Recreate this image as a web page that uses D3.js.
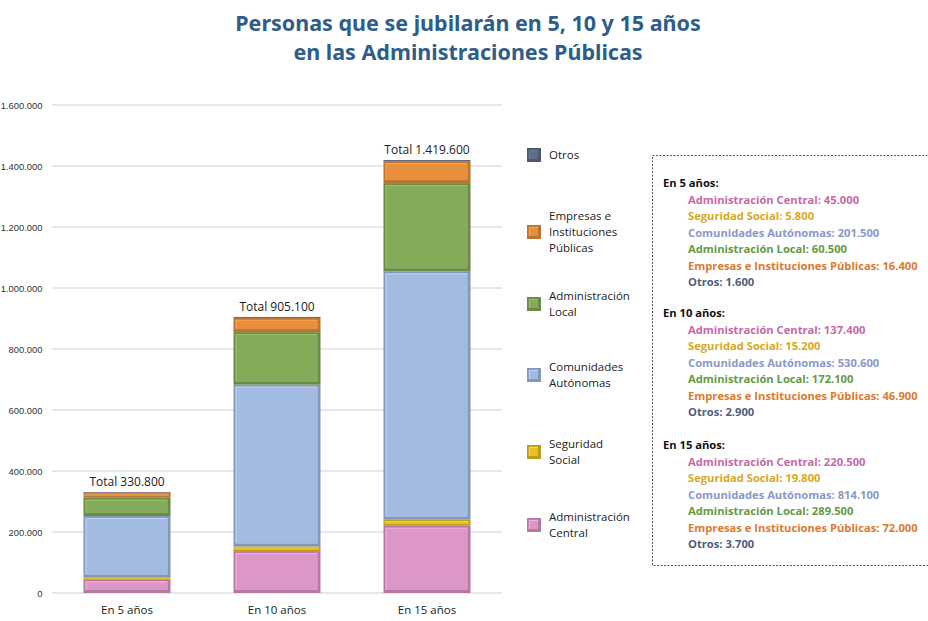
<!DOCTYPE html>
<html><head><meta charset="utf-8">
<script src="https://cdn.jsdelivr.net/npm/d3@7"></script>
<style>body{margin:0;background:#fff}svg{display:block}</style>
</head><body>
<script>
const categories = ["En 5 años", "En 10 años", "En 15 años"];
const seriesNames = ["Administración Central", "Seguridad Social", "Comunidades Autónomas", "Administración Local", "Empresas e Instituciones Públicas", "Otros"];
const adminCentral = [45000, 137400, 220500];
const seguridadSocial = [5800, 15200, 19800];
const comunidades = [201500, 530600, 814100];
const adminLocal = [60500, 172100, 289500];
const empresas = [16400, 46900, 72000];
const otros = [1600, 2900, 3700];
const totals = [330800, 905100, 1419600];
const yTicks = [0, 200000, 400000, 600000, 800000, 1000000, 1200000, 1400000, 1600000];
const legendLabels = [["Otros"], ["Empresas e", "Instituciones", "Públicas"], ["Administración", "Local"], ["Comunidades", "Autónomas"], ["Seguridad", "Social"], ["Administración", "Central"]];

const fills = ["#dc96c8", "#e8c024", "#a3bbe1", "#84ab5a", "#e88f3e", "#5f6e84"];
const textCols = ["#c768a8", "#d8a822", "#8a98c8", "#649a44", "#dc7a2e", "#4e5e7a"];
const seriesVals = [adminCentral, seguridadSocial, comunidades, adminLocal, empresas, otros];

const W = 928, H = 621;
const svg = d3.select("body").append("svg").attr("width", W).attr("height", H);
const font = "'Open Sans', 'Noto Sans', sans-serif";

// title
svg.append("text").attr("x", 468).attr("y", 31).attr("text-anchor", "middle")
  .attr("font-family", "'Noto Sans', sans-serif").attr("font-weight", 700).attr("font-size", 21.5)
  .attr("fill", "#2f5d8a").text("Personas que se jubilarán en 5, 10 y 15 años");
svg.append("text").attr("x", 468).attr("y", 60).attr("text-anchor", "middle")
  .attr("font-family", "'Noto Sans', sans-serif").attr("font-weight", 700).attr("font-size", 21.5)
  .attr("fill", "#2f5d8a").text("en las Administraciones Públicas");

const y = d3.scaleLinear().domain([0, 1600000]).range([593, 105]);
const x = d3.scaleBand().domain(categories).range([52, 502]).paddingInner(0.42).paddingOuter(0.21);

const fmt = v => d3.format(",")(v).replace(/,/g, ".");

// gridlines
svg.append("g").selectAll("line").data(yTicks).join("line")
  .attr("x1", 52).attr("x2", 502).attr("y1", d => y(d)).attr("y2", d => y(d))
  .attr("stroke", "#d0d0d0").attr("stroke-width", 1);

const yAxis = d3.axisLeft(y).tickValues(yTicks).tickFormat(fmt).tickSize(0).tickPadding(0);
const gy = svg.append("g").attr("transform", "translate(42.5,0)").call(yAxis);
gy.select(".domain").remove();
gy.selectAll("text").attr("font-family", "'Liberation Sans', Arial, sans-serif").attr("font-size", 9.4).attr("fill", "#333");

const xAxis = d3.axisBottom(x).tickSize(0).tickPadding(0);
const gx = svg.append("g").attr("transform", "translate(0,614)").call(xAxis);
gx.select(".domain").remove();
gx.selectAll("text").attr("font-family", font).attr("font-size", 11.5).attr("fill", "#222").attr("dy", 0);

// stack
const rows = categories.map((c, i) => {
  const o = { cat: c };
  seriesNames.forEach((s, k) => o[s] = seriesVals[k][i]);
  return o;
});
const stack = d3.stack().keys(seriesNames)(rows);

function bevel(g, x0, y0, w, h, col) {
  const c = d3.color(col);
  g.append("rect").attr("x", x0).attr("y", y0).attr("width", w).attr("height", h).attr("fill", c.darker(0.6));
  const b = Math.min(3, h / 3);
  g.append("rect").attr("x", x0 + b * 0.6).attr("y", y0 + b * 0.6).attr("width", w - b * 1.6).attr("height", Math.max(0, h - b * 1.6)).attr("fill", c.brighter(0.35));
  g.append("rect").attr("x", x0 + b).attr("y", y0 + b).attr("width", w - b * 2).attr("height", Math.max(0, h - b * 2)).attr("fill", col);
}

const gb = svg.append("g");
stack.forEach((layer, k) => {
  layer.forEach((d, i) => {
    const x0 = x(categories[i]);
    const y0 = y(d[1]), y1 = y(d[0]);
    bevel(gb, x0, y0, x.bandwidth(), y1 - y0, fills[k]);
  });
});

// totals
svg.append("g").selectAll("text").data(totals).join("text")
  .attr("x", (d, i) => x(categories[i]) + x.bandwidth() / 2)
  .attr("y", d => y(d) - 6).attr("text-anchor", "middle")
  .attr("font-family", font).attr("font-size", 12).attr("fill", "#222")
  .text(d => "Total " + fmt(d));

// legend
const legY = [155, 232, 304, 375, 452, 525];
const legOrder = [5, 4, 3, 2, 1, 0];
const gl = svg.append("g");
legOrder.forEach((k, j) => {
  const lines = legendLabels[j];
  const cy = legY[j];
  bevel(gl, 527, cy - 7, 14, 14, fills[k]);
  const t = gl.append("text").attr("font-family", font).attr("font-size", 11.5).attr("fill", "#222");
  const top = cy - (lines.length - 1) * 8;
  lines.forEach((l, li) => t.append("tspan").attr("x", 549).attr("y", top + li * 16 + 4).text(l));
});

// text box
svg.append("rect").attr("x", 652.5).attr("y", 155.5).attr("width", 290).attr("height", 410)
  .attr("fill", "none").attr("stroke", "#555").attr("stroke-dasharray", "2,1.5").attr("stroke-width", 1);

const gt = svg.append("g").attr("font-family", font).attr("font-weight", 700).attr("font-size", 11.2);
const blockTop = [183, 313, 445];
categories.forEach((c, i) => {
  gt.append("text").attr("x", 663).attr("y", blockTop[i] + 4).attr("fill", "#111").text(c + ":");
  seriesNames.forEach((s, k) => {
    gt.append("text").attr("x", 688).attr("y", blockTop[i] + 4 + (k + 1) * 16.5)
      .attr("fill", textCols[k]).text(s + ": " + fmt(seriesVals[k][i]));
  });
});
</script>
</body></html>
